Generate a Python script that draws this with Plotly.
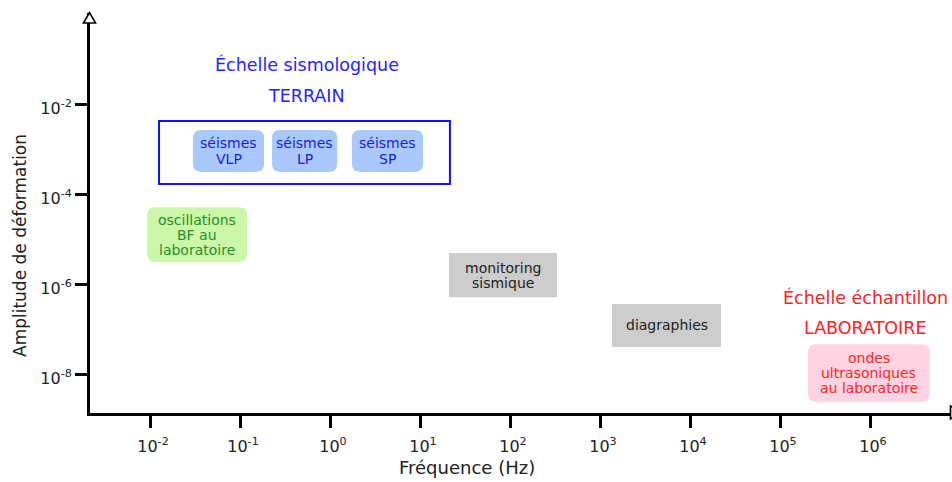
import math
import plotly.graph_objects as go

FONT = "DejaVu Sans"

# Axis ticks (decades)
freq_ticks = [1e-2, 1e-1, 1e0, 1e1, 1e2, 1e3, 1e4, 1e5, 1e6]
freq_tick_text = ["10<sup>%d</sup>" % e for e in range(-2, 7)]
amp_ticks = [1e-2, 1e-4, 1e-6, 1e-8]
amp_tick_text = ["10<sup>%d</sup>" % e for e in (-2, -4, -6, -8)]

# Domains of the methods: frequency band (Hz) and strain amplitude band
box_labels = [["oscillations", "BF au", "laboratoire"],
              ["séismes", "VLP"], ["séismes", "LP"], ["séismes", "SP"],
              ["monitoring", "sismique"], ["diagraphies"],
              ["ondes", "ultrasoniques", "au laboratoire"]]
box_f_lo = [9.3e-3, 3.0e-2, 2.27e-1, 1.75e0, 2.1e1, 1.36e3, 2.05e5]
box_f_hi = [1.2e-1, 1.85e-1, 1.2e0, 1.08e1, 3.33e2, 2.21e4, 4.6e6]
box_a_lo = [3.1e-6, 3.1e-4, 3.1e-4, 3.1e-4, 5.1e-7, 4.0e-8, 2.4e-9]
box_a_hi = [5.1e-5, 2.64e-3, 2.64e-3, 2.64e-3, 4.9e-6, 3.6e-7, 4.6e-8]
box_fill = ["#ccf7a8", "#a9c8fb", "#a9c8fb", "#a9c8fb", "#cccccc", "#cccccc", "#ffd3e2"]
box_text = ["#22922a", "#1c1ce0", "#1c1ce0", "#1c1ce0", "#222222", "#222222", "#ff2424"]
box_round = [True, True, True, True, False, False, True]
box_line_gap = [15, 16, 16, 16, 15, 15, 15]

# Field-scale frame around the seismic events
field_f = [1.26e-2, 2.15e1]
field_a = [1.67e-4, 4.19e-3]

# Scale headings
head_labels = ["Échelle sismologique", "TERRAIN", "Échelle échantillon", "LABORATOIRE"]
head_f = [0.555, 0.555, 8.8e5, 8.8e5]
head_a = [7.4e-2, 1.5e-2, 5.1e-7, 1.05e-7]
head_color = ["#2424ff", "#2424ff", "#ff2020", "#ff2020"]

W, H = 952, 482
ML, MR, MT, MB = 90, 0, 13, 69
X_RANGE = [-2.6667, 6.9111]
Y_RANGE = [-8.8667, 0.0222]


def rounded_path(f0, f1, a0, a1, rx=0.09, ry=0.18):
    lx0, lx1 = math.log10(f0), math.log10(f1)
    ly0, ly1 = math.log10(a0), math.log10(a1)
    p = lambda lx, ly: "%g,%g" % (10 ** lx, 10 ** ly)
    return ("M " + p(lx0 + rx, ly0) + " L " + p(lx1 - rx, ly0) +
            " Q " + p(lx1, ly0) + " " + p(lx1, ly0 + ry) +
            " L " + p(lx1, ly1 - ry) +
            " Q " + p(lx1, ly1) + " " + p(lx1 - rx, ly1) +
            " L " + p(lx0 + rx, ly1) +
            " Q " + p(lx0, ly1) + " " + p(lx0, ly1 - ry) +
            " L " + p(lx0, ly0 + ry) +
            " Q " + p(lx0, ly0) + " " + p(lx0 + rx, ly0) + " Z")


fig = go.Figure()
# invisible trace so the axes exist
fig.add_trace(go.Scatter(x=[1e-2, 1e6], y=[1e-8, 1e-2], mode="markers",
                         marker=dict(opacity=0), hoverinfo="skip", showlegend=False))

shapes = []
for i in range(len(box_labels)):
    if box_round[i]:
        shapes.append(dict(type="path", xref="x", yref="y",
                           path=rounded_path(box_f_lo[i], box_f_hi[i], box_a_lo[i], box_a_hi[i]),
                           fillcolor=box_fill[i], line=dict(width=0), layer="below"))
    else:
        shapes.append(dict(type="rect", xref="x", yref="y",
                           x0=box_f_lo[i], x1=box_f_hi[i], y0=box_a_lo[i], y1=box_a_hi[i],
                           fillcolor=box_fill[i], line=dict(width=0), layer="below"))

shapes.append(dict(type="rect", xref="x", yref="y",
                   x0=field_f[0], x1=field_f[1], y0=field_a[0], y1=field_a[1],
                   line=dict(color="#1010ff", width=2), fillcolor="rgba(0,0,0,0)"))


def px(x):
    return (x - ML) / (W - ML - MR)


def py(y):
    return (H - MB - y) / (H - MT - MB)


# arrow heads of the axes
shapes.append(dict(type="path", xref="paper", yref="paper",
                   path="M %f,%f L %f,%f L %f,%f Z" % (px(83.5), py(23), px(89.5), py(12.5), px(95.5), py(23)),
                   fillcolor="white", line=dict(color="black", width=1.6)))
shapes.append(dict(type="path", xref="paper", yref="paper",
                   path="M %f,%f L %f,%f L %f,%f Z" % (px(950.5), py(406), px(962), py(412.5), px(950.5), py(419)),
                   fillcolor="white", line=dict(color="black", width=1.6)))

annotations = []
for i, lines in enumerate(box_labels):
    cx = (math.log10(box_f_lo[i]) + math.log10(box_f_hi[i])) / 2
    cy = (math.log10(box_a_lo[i]) + math.log10(box_a_hi[i])) / 2
    n = len(lines)
    for k, line in enumerate(lines):
        annotations.append(dict(
            x=cx, y=cy, xref="x", yref="y", text=line, showarrow=False,
            yshift=((n - 1) / 2 - k) * box_line_gap[i],
            font=dict(family=FONT, size=14, color=box_text[i]),
            xanchor="center", yanchor="middle"))
for i in range(len(head_labels)):
    annotations.append(dict(
        x=math.log10(head_f[i]), y=math.log10(head_a[i]), xref="x", yref="y",
        text=head_labels[i], showarrow=False,
        font=dict(family=FONT, size=17.5, color=head_color[i]),
        xanchor="center", yanchor="middle"))

annotations.append(dict(x=px(467), y=py(467), xref="paper", yref="paper",
                        text="Fréquence (Hz)", showarrow=False,
                        font=dict(family=FONT, size=18, color="#222222"),
                        xanchor="center", yanchor="middle"))
annotations.append(dict(x=px(20), y=py(246), xref="paper", yref="paper",
                        text="Amplitude de déformation", showarrow=False, textangle=-90,
                        font=dict(family=FONT, size=17, color="#222222"),
                        xanchor="center", yanchor="middle"))

axis_common = dict(type="log", showgrid=False, zeroline=False, showline=True,
                   linecolor="black", linewidth=3, ticks="outside", ticklen=12,
                   tickwidth=3, tickcolor="black", automargin=False,
                   tickfont=dict(family=FONT, size=16, color="#222222"))

fig.update_layout(
    width=W, height=H,
    margin=dict(l=ML, r=MR, t=MT, b=MB, pad=0, autoexpand=False),
    paper_bgcolor="white", plot_bgcolor="white",
    showlegend=False,
    xaxis=dict(range=X_RANGE, tickvals=freq_ticks, ticktext=freq_tick_text,
               ticklabelstandoff=5, ticklabelshift=3, **axis_common),
    yaxis=dict(range=Y_RANGE, tickvals=amp_ticks, ticktext=amp_tick_text,
               ticklabelshift=4, **axis_common),
    shapes=shapes, annotations=annotations,
)

fig.write_html("out.html")
